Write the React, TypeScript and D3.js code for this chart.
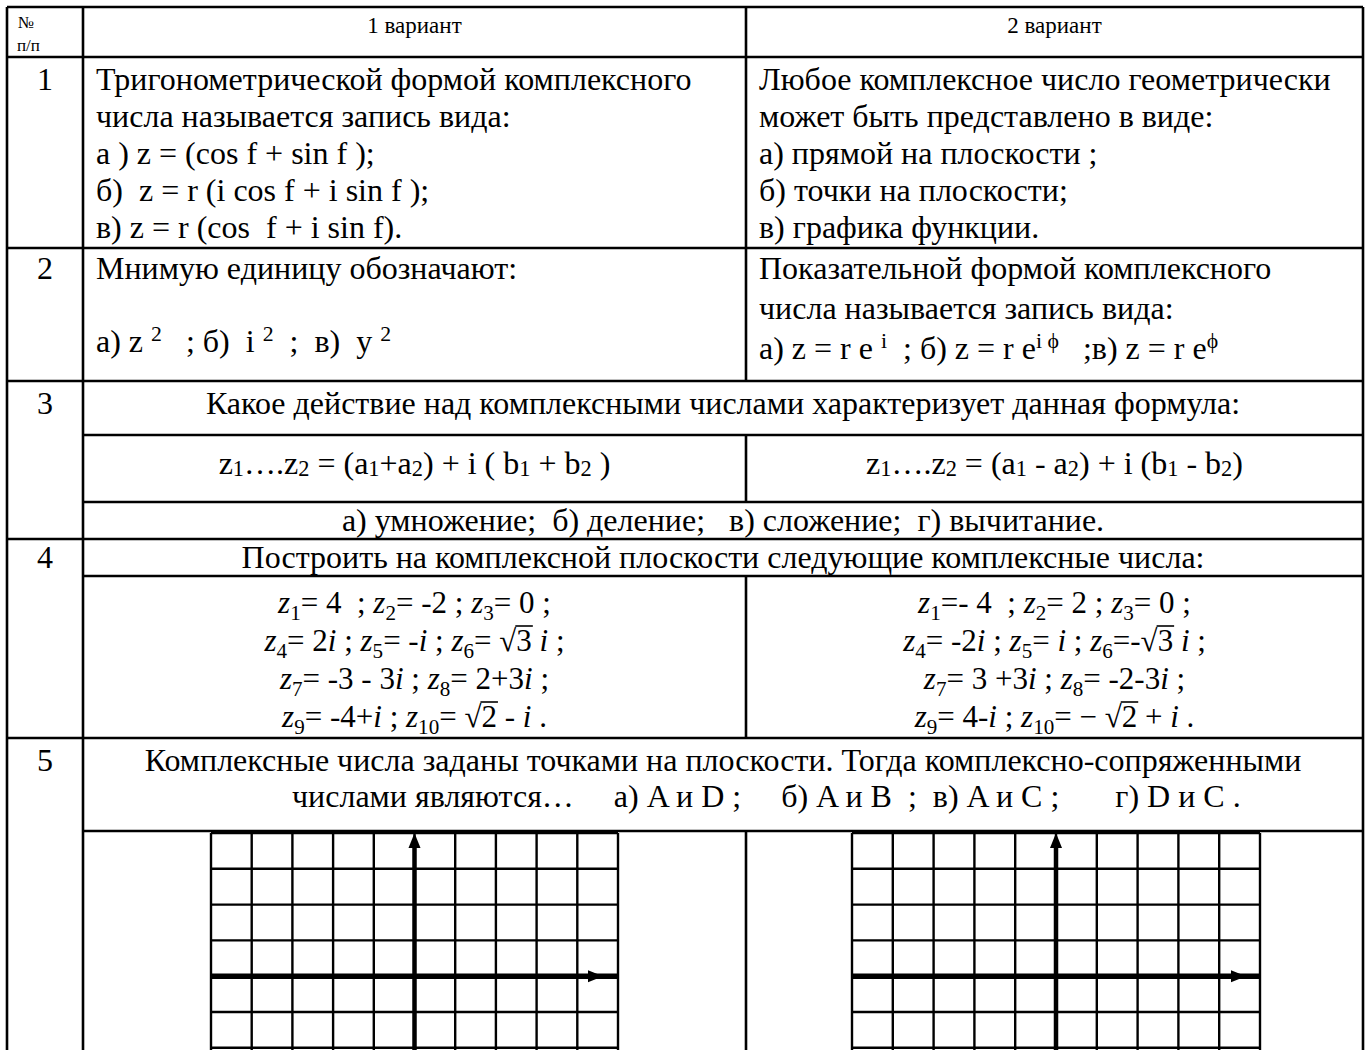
import React, { useEffect, useRef } from "react";
import * as d3 from "d3";

// --- table content ---
const headerNo = ["№", "п/п"];
const variantTitles = ["1 вариант", "2 вариант"];
const rowNumbers = ["1", "2", "3", "4", "5"];

const q1Left = [
  "Тригонометрической формой комплексного",
  "числа называется запись вида:",
  "а ) z = (cos f + sin f );",
  "б)  z = r (i cos f + i sin f );",
  "в) z = r (cos  f + i sin f).",
];
const q1Right = [
  "Любое комплексное число геометрически",
  "может быть представлено в виде:",
  "а) прямой на плоскости ;",
  "б) точки на плоскости;",
  "в) графика функции.",
];
const q2Left = ["Мнимую единицу обозначают:", "а) z ^{2}   ; б)  i ^{2}  ;  в)  y ^{2}"];
const q2Right = [
  "Показательной формой комплексного",
  "числа называется запись вида:",
  "а) z = r e ^{i}  ; б) z = r e^{i ϕ}   ;в) z = r e^{ϕ}",
];
const q3Title = "Какое действие над комплексными числами характеризует данная формула:";
const q3Formulas = [
  "z_{1}….z_{2} = (a_{1}+a_{2}) + i ( b_{1} + b_{2} )",
  "z_{1}….z_{2} = (a_{1} - a_{2}) + i (b_{1} - b_{2})",
];
const q3Answers = "а) умножение;  б) деление;   в) сложение;  г) вычитание.";
const q4Title = "Построить на комплексной плоскости следующие комплексные числа:";
const q4Left = [
  "*z*_{1}= 4  ; *z*_{2}= -2 ; *z*_{3}= 0 ;",
  "*z*_{4}= 2*i* ; *z*_{5}= -*i* ; *z*_{6}= √~{3} *i* ;",
  "*z*_{7}= -3 - 3*i* ; *z*_{8}= 2+3*i* ;",
  "*z*_{9}= -4+*i* ; *z*_{10}= √~{2} - *i* .",
];
const q4Right = [
  "*z*_{1}=- 4  ; *z*_{2}= 2 ; *z*_{3}= 0 ;",
  "*z*_{4}= -2*i* ; *z*_{5}= *i* ; *z*_{6}=-√~{3} *i* ;",
  "*z*_{7}= 3 +3*i* ; *z*_{8}= -2-3*i* ;",
  "*z*_{9}= 4-*i* ; *z*_{10}= − √~{2} + *i* .",
];
const q5Lines = [
  "Комплексные числа заданы точками на плоскости. Тогда комплексно-сопряженными",
  "числами являются…     а) A и D ;     б) A и B  ;  в) A и C ;       г) D и C .",
];

// grid of the complex plane (units)
const gridXTicks = [-5, -4, -3, -2, -1, 0, 1, 2, 3, 4, 5];
const gridYTicks = [4, 3, 2, 1, 0, -1, -2, -3];

// --- layout ---
const W = 1370;
const H = 1050;
const FONT = "'Liberation Serif', 'Times New Roman', serif";
const FS = 32;
const xL = 7, xNo = 83, xMid = 746, xR = 1363;
const yTop = 7, yHead = 57, yR1 = 248, yR2 = 381, yR3a = 435, yR3b = 502, yR3 = 539;
const yR4a = 576, yR4 = 738, yR5a = 831;
const padL = 96, padR = 759;

type Seg = { t: string; it: boolean; sub?: boolean; sup?: boolean; over?: boolean };

function parse(s: string): Seg[] {
  const out: Seg[] = [];
  let it = false;
  let buf = "";
  const flush = () => {
    if (buf) out.push({ t: buf, it });
    buf = "";
  };
  for (let i = 0; i < s.length; i++) {
    const c = s[i];
    if (c === "*") {
      flush();
      it = !it;
      continue;
    }
    if ((c === "_" || c === "^" || c === "~") && s[i + 1] === "{") {
      flush();
      const end = s.indexOf("}", i);
      out.push({ t: s.slice(i + 2, end), it, sub: c === "_", sup: c === "^", over: c === "~" });
      i = end;
      continue;
    }
    buf += c;
  }
  flush();
  return out;
}

const Rich = ({ x, y, s, size = FS, anchor = "start", subShift = 8, supShift = 12, small = 0.68 }: any) => {
  let cur = 0;
  return (
    <text x={x} y={y} fontSize={size} textAnchor={anchor} xmlSpace="preserve" style={{ whiteSpace: "pre" }}>
      {parse(s).map((g, i) => {
        const target = g.sub ? subShift : g.sup ? -supShift : 0;
        const dy = target - cur;
        cur = target;
        return (
          <tspan
            key={i}
            dy={dy}
            className={g.over ? "ovl" : undefined}
            fontSize={g.sub || g.sup ? size * small : undefined}
            fontStyle={g.it ? "italic" : undefined}
          >
            {g.t}
          </tspan>
        );
      })}
    </text>
  );
};

const Grid = ({ x0, x1, tip }: { x0: number; x1: number; tip: number }) => {
  const xs = d3.scaleLinear().domain([-5, 5]).range([x0, x1]);
  const ys = d3.scaleLinear().domain([4, -3]).range([833, 833 + 7 * 35.8]);
  const ax = xs(0);
  const ay = ys(0);
  return (
    <g>
      {gridXTicks.map((v) => (
        <line key={"v" + v} x1={xs(v)} x2={xs(v)} y1={ys(4)} y2={H} stroke="#000" strokeWidth={2.4} />
      ))}
      {gridYTicks.map((v) => (
        <line key={"h" + v} x1={x0} x2={x1} y1={ys(v)} y2={ys(v)} stroke="#000" strokeWidth={2.4} />
      ))}
      <line x1={x0} x2={x1} y1={ay} y2={ay} stroke="#000" strokeWidth={5.5} />
      <path d={`M${tip},${ay} L${tip - 15},${ay - 6} L${tip - 15},${ay + 6} Z`} fill="#000" />
      <line x1={ax} x2={ax} y1={ys(4) + 8} y2={H} stroke="#000" strokeWidth={4.5} />
      <path d={`M${ax},${ys(4)} L${ax - 6},${ys(4) + 15} L${ax + 6},${ys(4) + 15} Z`} fill="#000" />
    </g>
  );
};

const App = () => {
  const svgRef = useRef<SVGSVGElement>(null);

  // radical bars drawn over the radicands once the text is laid out
  useEffect(() => {
    const svg = d3.select(svgRef.current);
    const layer = svg.select(".overlines");
    layer.selectAll("*").remove();
    svg.selectAll<SVGTSpanElement, unknown>("tspan.ovl").each(function () {
      const b = this.getBBox();
      layer
        .append("line")
        .attr("x1", b.x - 1)
        .attr("x2", b.x + b.width + 1)
        .attr("y1", b.y + 3)
        .attr("y2", b.y + 3)
        .attr("stroke", "#000")
        .attr("stroke-width", 1.6);
    });
  }, []);

  const cL = (xNo + xMid) / 2;
  const cR = (xMid + xR) / 2;
  const cAll = (xNo + xR) / 2;
  const noX = (xL + xNo) / 2;
  const hLines: [number, number, number][] = [
    [xL, xR, yTop], [xL, xR, yHead], [xL, xR, yR1], [xL, xR, yR2], [xNo, xR, yR3a], [xNo, xR, yR3b],
    [xL, xR, yR3], [xNo, xR, yR4a], [xL, xR, yR4], [xNo, xR, yR5a],
  ];
  const midSpans: [number, number][] = [[yTop, yR2], [yR3a, yR3b], [yR4a, yR4], [yR5a, H]];
  const rowBase = [90, 279, 414, 568, 771];

  return (
    <svg ref={svgRef} width={W} height={H} style={{ position: "absolute", left: 0, top: 0, background: "#fff" }} fontFamily={FONT} fill="#000">
      <rect width={W} height={H} fill="#fff" />
      {/* table rules */}
      {hLines.map(([a, b, y], i) => (
        <line key={"hl" + i} x1={a} x2={b} y1={y} y2={y} stroke="#000" strokeWidth={2.6} />
      ))}
      {[xL, xNo, xR].map((x) => (
        <line key={"vl" + x} x1={x} x2={x} y1={yTop} y2={H} stroke="#000" strokeWidth={2.6} />
      ))}
      {midSpans.map(([a, b], i) => (
        <line key={"ml" + i} x1={xMid} x2={xMid} y1={a} y2={b} stroke="#000" strokeWidth={2.6} />
      ))}

      {/* header */}
      <text x={18} y={28} fontSize={17}>{headerNo[0]}</text>
      <text x={17} y={51} fontSize={17}>{headerNo[1]}</text>
      <text x={cL} y={33} fontSize={23} textAnchor="middle">{variantTitles[0]}</text>
      <text x={cR} y={33} fontSize={23} textAnchor="middle">{variantTitles[1]}</text>

      {rowNumbers.map((n, i) => (
        <text key={"n" + n} x={noX} y={rowBase[i]} fontSize={FS} textAnchor="middle">{n}</text>
      ))}

      {/* 1 */}
      {q1Left.map((t, i) => (
        <text key={"a" + i} x={padL} y={90 + i * 37} fontSize={FS} style={{ whiteSpace: "pre" }}>{t}</text>
      ))}
      {q1Right.map((t, i) => (
        <text key={"b" + i} x={padR} y={90 + i * 37} fontSize={FS} style={{ whiteSpace: "pre" }}>{t}</text>
      ))}

      {/* 2 */}
      <text x={padL} y={279} fontSize={FS}>{q2Left[0]}</text>
      <Rich x={padL} y={352} s={q2Left[1]} supShift={11} />
      {q2Right.map((t, i) => (
        <Rich key={"c" + i} x={padR} y={279 + i * 40} s={t} supShift={11} />
      ))}

      {/* 3 */}
      <text x={cAll} y={414} fontSize={FS} textAnchor="middle">{q3Title}</text>
      <Rich x={cL} y={474} s={q3Formulas[0]} anchor="middle" subShift={2} small={0.7} />
      <Rich x={cR} y={474} s={q3Formulas[1]} anchor="middle" subShift={2} small={0.7} />
      <text x={cAll} y={531} fontSize={FS} textAnchor="middle" style={{ whiteSpace: "pre" }}>{q3Answers}</text>

      {/* 4 */}
      <text x={cAll} y={568} fontSize={FS} textAnchor="middle">{q4Title}</text>
      {q4Left.map((t, i) => (
        <Rich key={"d" + i} x={cL} y={613 + i * 38} s={t} anchor="middle" size={31} subShift={7} />
      ))}
      {q4Right.map((t, i) => (
        <Rich key={"e" + i} x={cR} y={613 + i * 38} s={t} anchor="middle" size={31} subShift={7} />
      ))}
      <g className="overlines" />

      {/* 5 */}
      <text x={cAll} y={771} fontSize={FS} textAnchor="middle">{q5Lines[0]}</text>
      <text x={292} y={807} fontSize={FS} style={{ whiteSpace: "pre" }}>{q5Lines[1]}</text>

      <Grid x0={211} x1={618} tip={603} />
      <Grid x0={852} x1={1260} tip={1246} />
    </svg>
  );
};

export default App;
